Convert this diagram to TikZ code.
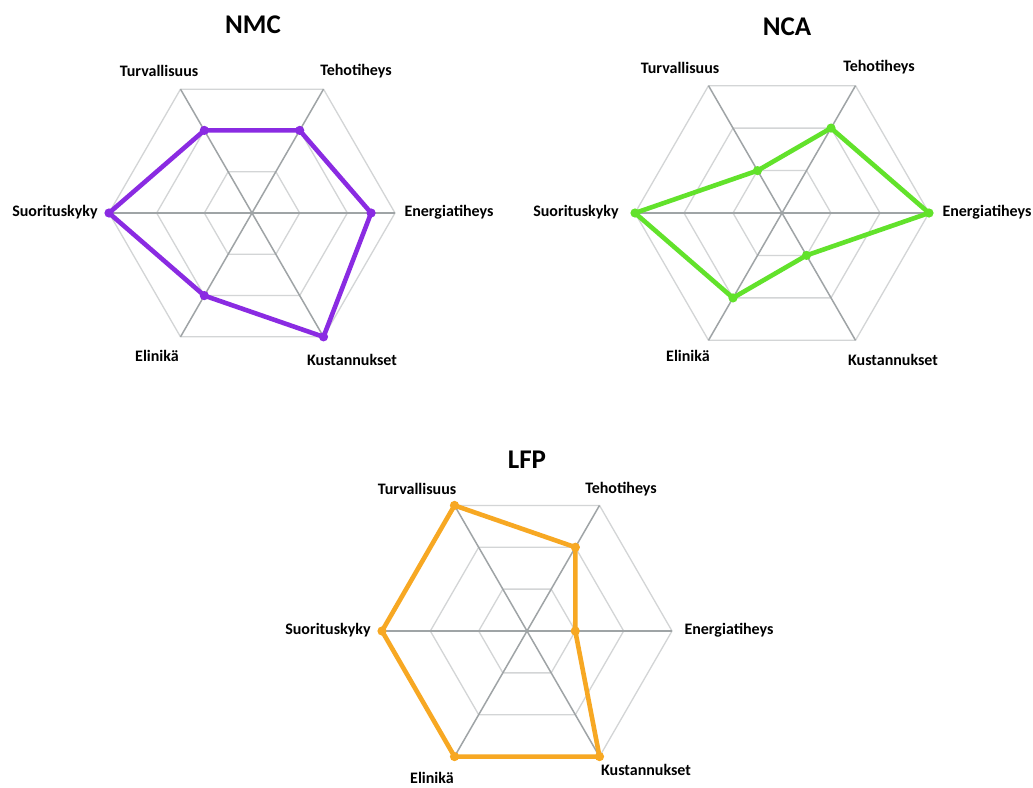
\documentclass[tikz,border=0pt]{standalone}
\usepackage{fontspec}
\setmainfont{Carlito}
\definecolor{spoke}{HTML}{9FA4A6}
\definecolor{ring}{HTML}{D3D5D6}
\definecolor{nmccol}{HTML}{8A2BE2}
\definecolor{ncacol}{HTML}{62E22B}
\definecolor{lfpcol}{HTML}{F7A823}
\tikzset{
 ringline/.style={draw=ring, line width=1.3pt},
 spokeline/.style={draw=spoke, line width=1.5pt},
 dataline/.style={line width=4.6pt, line join=round},
 axislabel/.style={font=\bfseries\fontsize{16}{19}\selectfont, inner sep=0pt},
 charttitle/.style={font=\bfseries\fontsize{27}{32}\selectfont, inner sep=0pt}
}
\newcommand{\radarchart}[6]{%
 \begin{scope}[shift={(#2,#3)}]
 \coordinate (#1-c) at (0,0);
 \foreach \k in {1,2,3}{
   \draw[ringline] ({#4*\k/3},0) \foreach \a in {60,120,...,300}{ -- ({#4*\k/3*cos(\a)},{-#4*\k/3*sin(\a)})} -- cycle;
 }
 \foreach \a [count=\j from 0] in {0,60,...,300}{
   \coordinate (#1-v\j) at ({#4*cos(\a)},{-#4*sin(\a)});
   \draw[spokeline] (#1-c) -- (#1-v\j);
 }
 \foreach \v [count=\i from 0] in {#6}{
   \coordinate (#1-p\i) at ({#4*\v*cos(60*\i)},{-#4*\v*sin(60*\i)});
 }
 \draw[dataline,draw=#5] (#1-p0) -- (#1-p1) -- (#1-p2) -- (#1-p3) -- (#1-p4) -- (#1-p5) -- cycle;
 \foreach \i in {0,...,5}{ \fill[#5] (#1-p\i) circle (4.6pt); }
 \end{scope}}
\begin{document}
\begin{tikzpicture}[x=1pt,y=-1pt]
\useasboundingbox[fill=white] (0,0) rectangle (1033,787);
% NMC
\radarchart{nmc}{252}{213}{143}{nmccol}{0.833,0.667,0.667,1,0.667,1}
\node[charttitle] (nmct) at (253,25) {NMC};
\node[axislabel] (nmc1) at (159,71) {Turvallisuus};
\node[axislabel] (nmc2) at (356,71) {Tehotiheys};
\node[axislabel] (nmc3) at (55,212) {Suorituskyky};
\node[axislabel] (nmc4) at (449,212) {Energiatiheys};
\node[axislabel] (nmc5) at (157,356) {Elinikä};
\node[axislabel] (nmc6) at (352,360) {Kustannukset};
% NCA
\radarchart{nca}{782}{213}{147}{ncacol}{1,0.667,0.333,1,0.667,0.333}
\node[charttitle] (ncat) at (787,27) {NCA};
\node[axislabel] (nca1) at (680,68) {Turvallisuus};
\node[axislabel] (nca2) at (879,67) {Tehotiheys};
\node[axislabel] (nca3) at (576,212) {Suorituskyky};
\node[axislabel] (nca4) at (987,212) {Energiatiheys};
\node[axislabel] (nca5) at (688,356) {Elinikä};
\node[axislabel] (nca6) at (893,360) {Kustannukset};
% LFP
\radarchart{lfp}{527}{631}{145}{lfpcol}{0.333,0.667,1,1,1,1}
\node[charttitle] (lfpt) at (527,460) {LFP};
\node[axislabel] (lfp1) at (417,489) {Turvallisuus};
\node[axislabel] (lfp2) at (621,489) {Tehotiheys};
\node[axislabel] (lfp3) at (328,630) {Suorituskyky};
\node[axislabel] (lfp4) at (729,630) {Energiatiheys};
\node[axislabel] (lfp5) at (432,778) {Elinikä};
\node[axislabel] (lfp6) at (646,770) {Kustannukset};
\end{tikzpicture}
\end{document}
